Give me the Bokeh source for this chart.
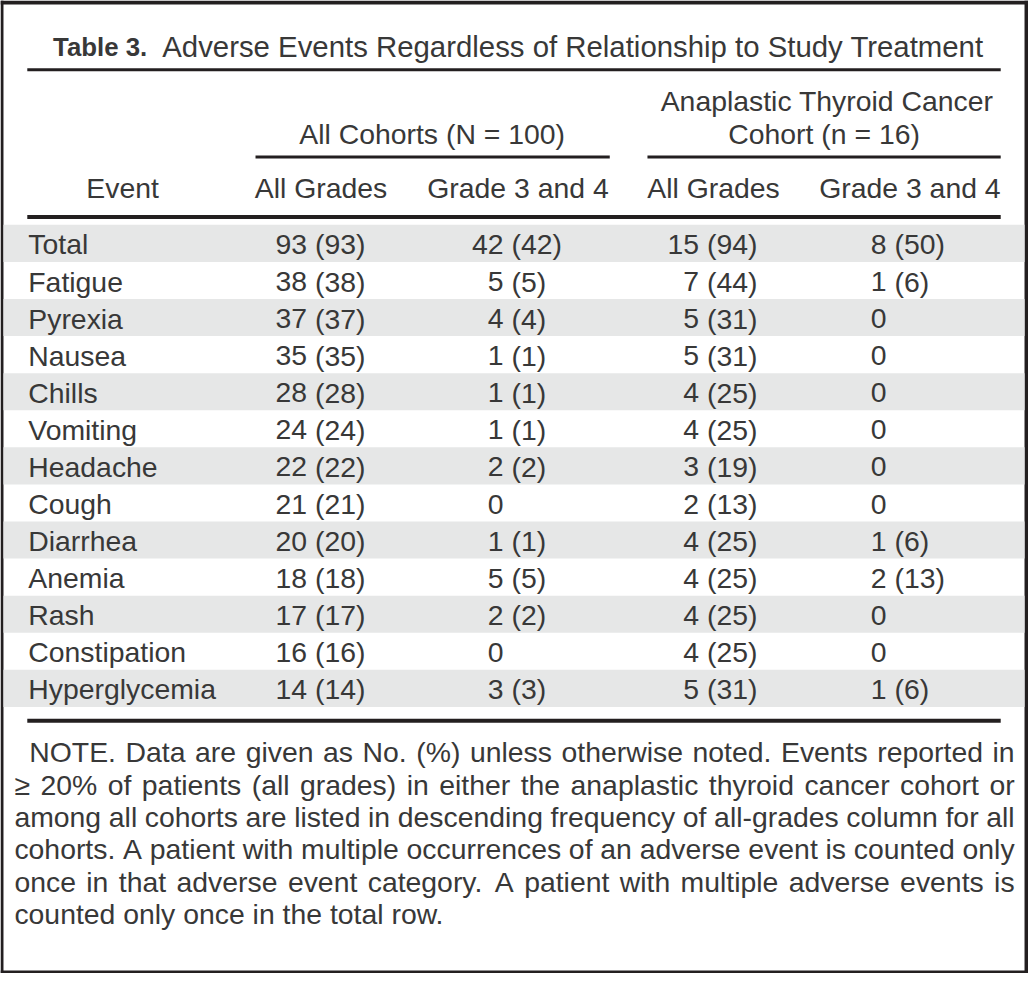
from bokeh.plotting import figure
from bokeh.models import Range1d
from bokeh.core.properties import value
from bokeh.embed import file_html
from bokeh.resources import INLINE

# ---------------- data ----------------
title_bold = "Table 3."
title_text = "Adverse Events Regardless of Relationship to Study Treatment"
group_all = "All Cohorts (N = 100)"
group_atc_1 = "Anaplastic Thyroid Cancer"
group_atc_2 = "Cohort (n = 16)"
col_headers = ["Event", "All Grades", "Grade 3 and 4", "All Grades", "Grade 3 and 4"]

events = ["Total", "Fatigue", "Pyrexia", "Nausea", "Chills", "Vomiting", "Headache",
          "Cough", "Diarrhea", "Anemia", "Rash", "Constipation", "Hyperglycemia"]
all_grades_n = [93, 38, 37, 35, 28, 24, 22, 21, 20, 18, 17, 16, 14]
all_grades_pct = [93, 38, 37, 35, 28, 24, 22, 21, 20, 18, 17, 16, 14]
all_g34_n = [42, 5, 4, 1, 1, 1, 2, 0, 1, 5, 2, 0, 3]
all_g34_pct = [42, 5, 4, 1, 1, 1, 2, None, 1, 5, 2, None, 3]
atc_grades_n = [15, 7, 5, 5, 4, 4, 3, 2, 4, 4, 4, 4, 5]
atc_grades_pct = [94, 44, 31, 31, 25, 25, 19, 13, 25, 25, 25, 25, 31]
atc_g34_n = [8, 1, 0, 0, 0, 0, 0, 0, 1, 2, 0, 0, 1]
atc_g34_pct = [50, 6, None, None, None, None, None, None, 6, 13, None, None, 6]

note_lines = [
    "NOTE. Data are given as No. (%) unless otherwise noted. Events reported in",
    "\u2265 20% of patients (all grades) in either the anaplastic thyroid cancer cohort or",
    "among all cohorts are listed in descending frequency of all-grades column for all",
    "cohorts. A patient with multiple occurrences of an adverse event is counted only",
    "once in that adverse event category. A patient with multiple adverse events is",
    "counted only once in the total row.",
]

# ---------------- layout ----------------
REF_W, REF_H = 1036, 989
FIG_W, FIG_H = 1028, 973
S = FIG_W / REF_W
FONT = value("Liberation Sans")
INK = "#383838"
RULE = "#231f20"
STRIPE = "#e6e7e7"
BODY = 28.6
DY = -11  # baseline correction for text rendering


def fs(px):
    return f"{px * S:.2f}px"


# Arial / Liberation Sans advance widths (per 1000 em)
W = {' ': 278, '%': 889, '(': 333, ')': 333, ',': 278, '-': 333, '.': 278, '=': 584,
     'A': 667, 'B': 667, 'C': 722, 'D': 722, 'E': 667, 'F': 611, 'G': 778, 'H': 722,
     'I': 278, 'J': 500, 'K': 667, 'L': 556, 'M': 833, 'N': 722, 'O': 778, 'P': 667,
     'Q': 778, 'R': 722, 'S': 667, 'T': 611, 'U': 722, 'V': 667, 'W': 944, 'X': 667,
     'Y': 667, 'Z': 611, 'a': 556, 'b': 556, 'c': 500, 'd': 556, 'e': 556, 'f': 278,
     'g': 556, 'h': 556, 'i': 222, 'j': 222, 'k': 500, 'l': 222, 'm': 833, 'n': 556,
     'o': 556, 'p': 556, 'q': 556, 'r': 333, 's': 500, 't': 278, 'u': 556, 'v': 500,
     'w': 722, 'x': 500, 'y': 500, 'z': 500, '\u2265': 549}


def tw(s, size):
    return sum(W.get(ch, 556) for ch in s) * size / 1000.0


TXT = dict(text_font=FONT, text_color=INK, text_baseline="alphabetic", text_line_height=1.0)

p = figure(width=FIG_W, height=FIG_H, x_range=Range1d(0, REF_W), y_range=Range1d(REF_H, 0),
           output_backend="svg", toolbar_location=None, x_axis_location=None,
           y_axis_location=None, min_border=0)
p.grid.visible = False
p.outline_line_color = None
p.background_fill_color = "white"
p.border_fill_color = "white"

# outer frame
p.quad(left=[0, 0, 0, 1032], right=[1036, 1036, 3, 1036], top=[0, 986, 0, 0],
       bottom=[4, 989, 989, 989], fill_color=RULE, line_color=None)

# row stripes
ROW_TOP0 = 228.0
RH = (718.0 - 228.0) / len(events)
st_top = [ROW_TOP0 + i * RH for i in range(len(events)) if i % 2 == 0]
p.quad(left=[3] * len(st_top), right=[1032] * len(st_top), top=st_top,
       bottom=[t + RH for t in st_top], fill_color=STRIPE, line_color=None)

# rules
p.segment(x0=[27, 27, 27], y0=[70.5, 220, 732], x1=[1008, 1008, 1008], y1=[70.5, 220, 732],
          line_color=RULE, line_width=[3, 4, 4], line_cap="butt")
p.segment(x0=[257, 652], y0=[159, 159], x1=[614, 1008], y1=[159, 159],
          line_color=RULE, line_width=3, line_cap="butt")

# title
p.text(x=[53], y=[58 + DY], text=[title_bold], text_font_style="bold",
       text_font_size=fs(26), text_align="left", **TXT)
p.text(x=[163], y=[58 + DY], text=[title_text], text_font_size=fs(29.6),
       text_align="left", **TXT)

# group headers
p.text(x=[435, 833, 830], y=[147 + DY, 113 + DY, 147 + DY],
       text=[group_all, group_atc_1, group_atc_2],
       text_font_size=fs(BODY), text_align="center", **TXT)

# column headers
p.text(x=[123, 323, 521.5, 718.5, 916.5], y=[202 + DY] * 5, text=col_headers,
       text_font_size=fs(BODY), text_align="center", **TXT)

# body
base = [ROW_TOP0 + i * RH + 31 + DY for i in range(len(events))]
p.text(x=[28] * len(events), y=base, text=events, text_font_size=fs(BODY),
       text_align="left", **TXT)

cols = [(309, all_grades_n, all_grades_pct), (507, all_g34_n, all_g34_pct),
        (704, atc_grades_n, atc_grades_pct), (893, atc_g34_n, atc_g34_pct)]
nx, ny, nt, px_, py_, pt = [], [], [], [], [], []
for xr, ns, ps in cols:
    for i, (n, pc) in enumerate(zip(ns, ps)):
        nx.append(xr); ny.append(base[i]); nt.append(str(n))
        if pc is not None:
            px_.append(xr + 8); py_.append(base[i]); pt.append(f"({pc})")
p.text(x=nx, y=ny, text=nt, text_font_size=fs(BODY), text_align="right", **TXT)
p.text(x=px_, y=py_, text=pt, text_font_size=fs(BODY), text_align="left", **TXT)

# justified note
NOTE_SIZE = 28.6
wx, wy, wt = [], [], []
for li, line in enumerate(note_lines):
    words = line.split(" ")
    x0 = 29 if li == 0 else 14
    x1 = 1022
    widths = [tw(w, NOTE_SIZE) for w in words]
    if li == len(note_lines) - 1 or len(words) < 2:
        gap = tw(" ", NOTE_SIZE)
    else:
        gap = (x1 - x0 - sum(widths)) / (len(words) - 1)
    x = x0
    yb = 775 + li * 32.9 + DY
    for w, wd in zip(words, widths):
        wx.append(x); wy.append(yb); wt.append(w)
        x += wd + gap
p.text(x=wx, y=wy, text=wt, text_font_size=fs(NOTE_SIZE), text_align="left", **TXT)

open("out.html", "w").write(file_html(p, INLINE))
